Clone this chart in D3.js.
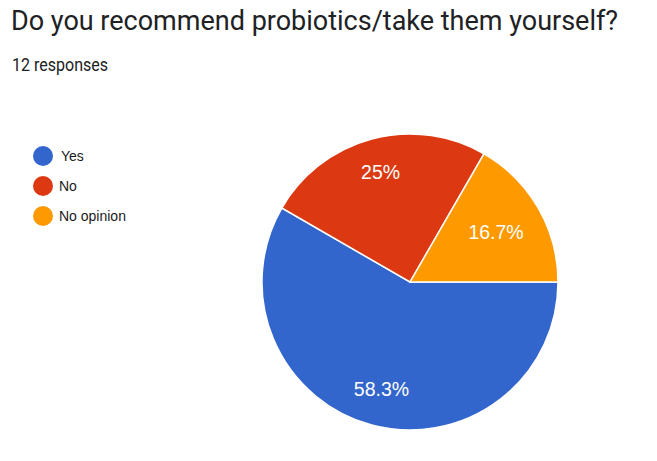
<!DOCTYPE html>
<html lang="en">
<head>
<meta charset="UTF-8" />
<title>Probiotics</title>
<script src="https://d3js.org/d3.v7.min.js"></script>
<style>
  body { margin: 0; background: #fff; }
  .title { font-family: Roboto, "Open Sans", sans-serif; fill: #202124; }
  .legend text { font-family: "Liberation Sans", Arial, sans-serif; font-size: 14px; fill: #1a1a1a; }
  .lbl { font-family: "Liberation Sans", Arial, sans-serif; font-size: 19.5px; fill: #fff; }
</style>
</head>
<body>
<script>
var width = 657, height = 461;

var categories = ["Yes", "No", "No opinion"];
var counts = [7, 3, 2];
var colors = ["#3366cc", "#dc3912", "#ff9900"];

var svg = d3.select("body").append("svg")
  .attr("width", width).attr("height", height);

svg.append("text").attr("class", "title")
  .attr("x", 11).attr("y", 30)
  .style("font-size", "27px")
  .text("Do you recommend probiotics/take them yourself?");

svg.append("text").attr("class", "title")
  .attr("x", 12).attr("y", 71)
  .style("font-size", "18px")
  .attr("textLength", 96)
  .attr("lengthAdjust", "spacingAndGlyphs")
  .text(d3.sum(counts) + " responses");

// legend
var color = d3.scaleOrdinal().domain(categories).range(colors);
var ly = d3.scalePoint().domain(categories).range([156, 216]);
var leg = svg.append("g").attr("class", "legend");
var item = leg.selectAll("g").data(categories).enter().append("g")
  .attr("transform", function(d) { return "translate(43," + ly(d) + ")"; });
item.append("circle").attr("r", 10).attr("fill", function(d) { return color(d); });
item.append("text").attr("x", function(d, i) { return i == 0 ? 18 : 16; }).attr("y", 5).text(function(d) { return d; });

// pie
var cx = 410, cy = 282, r = 148;
var total = d3.sum(counts);
var pie = d3.pie().sort(null).startAngle(Math.PI / 2).endAngle(Math.PI / 2 + 2 * Math.PI);
var arcs = pie(counts);
var arc = d3.arc().innerRadius(0).outerRadius(r);

var g = svg.append("g").attr("transform", "translate(" + cx + "," + cy + ")");
g.selectAll("path").data(arcs).enter().append("path")
  .attr("d", arc)
  .attr("fill", function(d, i) { return colors[i]; })
  .attr("stroke", "#fff")
  .attr("stroke-width", 1.5);

// labels: push text box out along mid-angle until its far corner hits R
var R = r * 0.86;
g.selectAll("text.lbl").data(arcs).enter().append("text")
  .attr("class", "lbl")
  .attr("text-anchor", "middle")
  .text(function(d) {
    var p = d.value / total * 100;
    return (Math.round(p * 10) / 10) + "%";
  })
  .each(function(d) {
    var bb = this.getBBox();
    var a = (d.startAngle + d.endAngle) / 2;
    var ux = Math.sin(a), uy = -Math.cos(a);
    var w = bb.width, h = 15;
    var b = Math.abs(ux) * w / 2 + Math.abs(uy) * h / 2;
    var c = (w * w + h * h) / 4 - R * R;
    var t = -b + Math.sqrt(b * b - c);
    d3.select(this).attr("x", t * ux).attr("y", t * uy + 7);
  });
</script>
</body>
</html>
